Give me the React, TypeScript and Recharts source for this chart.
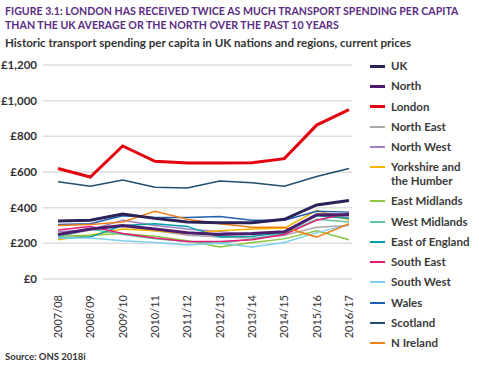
import { LineChart, Line, XAxis, YAxis, CartesianGrid } from 'recharts'

const years = ['2007/08', '2008/09', '2009/10', '2010/11', '2011/12', '2012/13', '2013/14', '2014/15', '2015/16', '2016/17']

const uk = [325, 330, 365, 340, 320, 315, 315, 335, 415, 440]
const north = [250, 280, 300, 280, 260, 250, 255, 265, 360, 360]
const london = [620, 572, 746, 660, 650, 650, 652, 675, 863, 950]
const northEast = [240, 275, 295, 270, 245, 235, 230, 245, 290, 300]
const northWest = [265, 275, 330, 300, 280, 265, 250, 265, 360, 345]
const yorkshire = [220, 245, 280, 270, 255, 270, 280, 285, 385, 330]
const eastMidlands = [240, 245, 255, 240, 215, 180, 205, 225, 270, 220]
const westMidlands = [235, 280, 250, 225, 210, 200, 225, 255, 335, 320]
const eastOfEngland = [230, 235, 300, 310, 295, 235, 240, 260, 355, 340]
const southEast = [275, 295, 255, 230, 210, 210, 220, 250, 330, 370]
const southWest = [230, 230, 215, 205, 190, 200, 180, 205, 260, 305]
const wales = [305, 310, 355, 345, 345, 350, 330, 330, 380, 375]
const scotland = [545, 520, 555, 515, 510, 550, 540, 520, 575, 620]
const nIreland = [300, 305, 320, 380, 335, 310, 290, 290, 235, 310]

const yTicks = [0, 200, 400, 600, 800, 1000, 1200]

const series = [
  { key: 'uk', name: 'UK', values: uk, color: '#2b2257', thick: true },
  { key: 'north', name: 'North', values: north, color: '#4a1d6e', thick: true },
  { key: 'london', name: 'London', values: london, color: '#e3000f', thick: true },
  { key: 'northEast', name: 'North East', values: northEast, color: '#aaaaaa' },
  { key: 'northWest', name: 'North West', values: northWest, color: '#a27fc8' },
  { key: 'yorkshire', name: 'Yorkshire and the Humber', values: yorkshire, color: '#f7b500' },
  { key: 'eastMidlands', name: 'East Midlands', values: eastMidlands, color: '#8cc63f' },
  { key: 'westMidlands', name: 'West Midlands', values: westMidlands, color: '#5fc4a0' },
  { key: 'eastOfEngland', name: 'East of England', values: eastOfEngland, color: '#00a0a8' },
  { key: 'southEast', name: 'South East', values: southEast, color: '#e6197a' },
  { key: 'southWest', name: 'South West', values: southWest, color: '#7fd0f0' },
  { key: 'wales', name: 'Wales', values: wales, color: '#2060b0' },
  { key: 'scotland', name: 'Scotland', values: scotland, color: '#1f4e6e' },
  { key: 'nIreland', name: 'N Ireland', values: nIreland, color: '#f07f1a' },
]

const data = years.map((year, i) => {
  const row: Record<string, string | number> = { year }
  series.forEach((s) => {
    row[s.key] = s.values[i]
  })
  return row
})

const font = "Lato, 'Noto Sans', sans-serif"

function YearTick({ x, y, payload }: any) {
  return (
    <text
      x={0}
      y={0}
      transform={`translate(${x + 4},${y + 8}) rotate(-90)`}
      textAnchor="end"
      fontSize={11}
      fill="#333"
      fontFamily={font}
    >
      {payload.value}
    </text>
  )
}

export default function App() {
  // thin lines first, the three headline series on top
  const drawOrder = [...series.filter((s) => !s.thick), ...series.filter((s) => s.thick)]

  return (
    <div style={{ position: 'absolute', left: 0, top: 0, width: 479, height: 369, background: '#fff', fontFamily: font }}>
      <div style={{ position: 'absolute', left: 5, top: 4, color: '#5b2c83', fontWeight: 700, fontSize: 10.6, lineHeight: '14px', whiteSpace: 'nowrap' }}>
        FIGURE 3.1: LONDON HAS RECEIVED TWICE AS MUCH TRANSPORT SPENDING PER CAPITA
        <br />
        THAN THE UK AVERAGE OR THE NORTH OVER THE PAST 10 YEARS
      </div>
      <div style={{ position: 'absolute', left: 5, top: 36, color: '#333', fontWeight: 700, fontSize: 11.6, whiteSpace: 'nowrap' }}>
        Historic transport spending per capita in UK nations and regions, current prices
      </div>

      <div style={{ position: 'absolute', left: 0, top: 0 }}>
        <LineChart width={479} height={369} data={data} margin={{ top: 65, right: 127, left: 0, bottom: 30 }}>
          <CartesianGrid vertical={false} stroke="#dddddd" strokeWidth={1.5} />
          <XAxis
            dataKey="year"
            axisLine={false}
            tickLine={false}
            interval={0}
            height={60}
            padding={{ left: 15, right: 3 }}
            tick={<YearTick />}
          />
          <YAxis
            width={43}
            domain={[0, 1200]}
            ticks={yTicks}
            axisLine={false}
            tickLine={false}
            tickMargin={0}
            tickFormatter={(v: number) => `£${v.toLocaleString('en-GB')}`}
            tick={{ fontSize: 11.5, fill: '#333', fontFamily: font, fontWeight: 700 }}
          />
          {drawOrder.map((s) => (
            <Line
              key={s.key}
              dataKey={s.key}
              stroke={s.color}
              strokeWidth={s.thick ? 3 : 1.5}
              dot={false}
              type="linear"
              isAnimationActive={false}
            />
          ))}
        </LineChart>
      </div>

      <div style={{ position: 'absolute', left: 370, top: 59, fontSize: 11.5, fontWeight: 700, color: '#3a3a3a', lineHeight: '13.5px' }}>
        {series.map((s) => (
          <div key={s.key} style={{ display: 'flex', alignItems: 'flex-start', marginBottom: 6.8 }}>
            <div
              style={{
                width: 15,
                height: s.thick ? 3 : 2,
                background: s.color,
                marginTop: s.thick ? 5.5 : 6,
                marginRight: 6,
                flexShrink: 0,
              }}
            />
            <div style={{ width: 100, whiteSpace: 'nowrap' }}>
              {s.key === 'yorkshire' ? (
                <>
                  Yorkshire and
                  <br />
                  the Humber
                </>
              ) : (
                s.name
              )}
            </div>
          </div>
        ))}
      </div>

      <div style={{ position: 'absolute', left: 5, top: 351, fontSize: 9.5, fontWeight: 700, color: '#333' }}>
        Source: ONS 2018i
      </div>
    </div>
  )
}
